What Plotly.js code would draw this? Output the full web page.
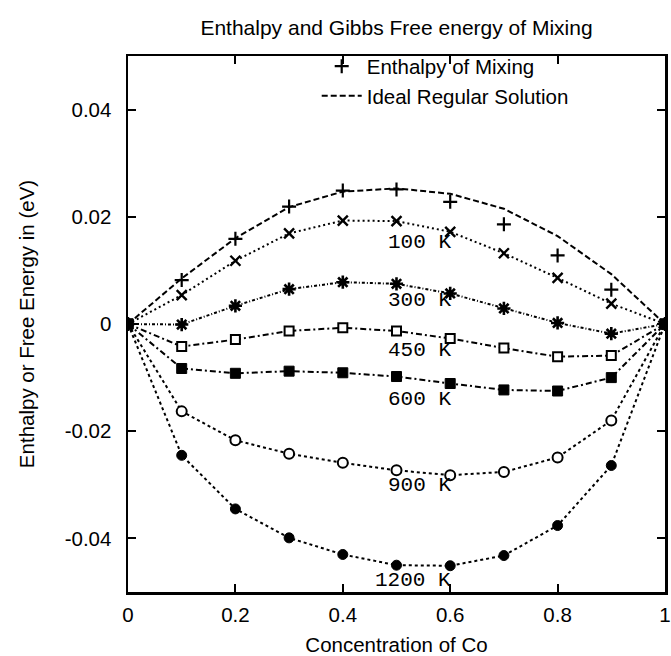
<!DOCTYPE html>
<html>
<head>
<meta charset="utf-8">
<script src="https://cdn.plot.ly/plotly-3.0.1.min.js"></script>
<style>
  html, body { margin: 0; padding: 0; background: #ffffff; }
  #chart { width: 671px; height: 656px; }
</style>
</head>
<body>
<div id="chart"></div>
<script>
// Concentration of Co
const conc = [0, 0.1, 0.2, 0.3, 0.4, 0.5, 0.6, 0.7, 0.8, 0.9, 1.0];

// Enthalpy of mixing (points) and ideal regular solution (line), eV
const enthalpy = [0, 0.0082, 0.0159, 0.0219, 0.0249, 0.0251, 0.0228, 0.0186, 0.0128, 0.0064, 0];
const idealRegular = [0, 0.0085, 0.0160, 0.0218, 0.0247, 0.0253, 0.0243, 0.0215, 0.0164, 0.0093, 0];

// Gibbs free energy of mixing at several temperatures, eV
const g100K  = [0, 0.0054, 0.0118, 0.0169, 0.0193, 0.0192, 0.0172, 0.0132, 0.0086, 0.0038, 0];
const g300K  = [0, -0.0001, 0.0034, 0.0065, 0.0078, 0.0075, 0.0057, 0.0029, 0.0002, -0.0018, 0];
const g450K  = [0, -0.0042, -0.0029, -0.0013, -0.0007, -0.0013, -0.0027, -0.0045, -0.0061, -0.0059, 0];
const g600K  = [0, -0.0083, -0.0092, -0.0088, -0.0091, -0.0098, -0.0111, -0.0123, -0.0125, -0.0100, 0];
const g900K  = [0, -0.0163, -0.0217, -0.0242, -0.0259, -0.0273, -0.0282, -0.0276, -0.0249, -0.0180, 0];
const g1200K = [0, -0.0245, -0.0345, -0.0399, -0.0430, -0.0450, -0.0451, -0.0432, -0.0376, -0.0264, 0];

// Curve labels
const tempLabels = ['100 K', '300 K', '450 K', '600 K', '900 K', '1200 K'];
const tempLabelY = [0.0152, 0.0044, -0.0050, -0.0141, -0.0302, -0.0478];

// Tick labels
const xTickVals = [0, 0.2, 0.4, 0.6, 0.8, 1];
const xTickText = ['0', '0.2', '0.4', '0.6', '0.8', '1'];
const yTickVals = [-0.04, -0.02, 0, 0.02, 0.04];
const yTickText = ['-0.04', '-0.02', '0', '0.02', '0.04'];

const SANS = 'Liberation Sans, Arial, Helvetica, sans-serif';
const MONO = 'Liberation Mono, Courier New, monospace';
const BLACK = '#000000';
const WHITE = '#ffffff';

function curve(y, dash, symbol, fill, size, mlw) {
  return {
    x: conc, y: y, type: 'scatter', mode: 'lines+markers', showlegend: false,
    line: { color: BLACK, width: 2, dash: dash },
    marker: {
      symbol: symbol, size: size, color: fill,
      line: { color: BLACK, width: mlw }
    },
    hoverinfo: 'skip'
  };
}

const traces = [
  {
    x: conc, y: enthalpy, type: 'scatter', mode: 'markers', name: 'Enthalpy of Mixing',
    marker: { symbol: 'cross-thin-open', size: 10, color: BLACK, line: { color: BLACK, width: 2.2 } }
  },
  {
    x: conc, y: idealRegular, type: 'scatter', mode: 'lines', name: 'Ideal Regular Solution',
    line: { color: BLACK, width: 2, dash: '6px,3px' }
  },
  curve(g100K, '2px,3px', 'x-thin-open', BLACK, 10, 2.4),
  curve(g300K, '3px,2px,1px,2px', 'asterisk-open', BLACK, 11, 2.6),
  curve(g450K, '6px,3px,2px,3px', 'square', WHITE, 9, 2),
  curve(g900K, '3px,3px', 'circle', WHITE, 10, 2),
  curve(g1200K, '3px,3px', 'circle', BLACK, 10, 1),
  curve(g600K, '6px,3px,2px,3px', 'square', BLACK, 10, 1)
];

const annotations = tempLabels.map((t, i) => ({
  text: t, x: 0.605, y: tempLabelY[i], xref: 'x', yref: 'y',
  xanchor: 'right', yanchor: 'middle', showarrow: false,
  font: { family: MONO, size: 21, color: BLACK }
}));

const axisCommon = {
  showgrid: false, zeroline: false, showline: true, linecolor: BLACK, linewidth: 2.5,
  mirror: 'ticks', ticks: 'inside', ticklen: 8, tickwidth: 2, tickcolor: BLACK,
  tickfont: { family: SANS, size: 20.5, color: BLACK }
};

const layout = {
  width: 671, height: 656,
  margin: { l: 128, r: 6, t: 56, b: 64 },
  paper_bgcolor: WHITE, plot_bgcolor: WHITE,
  title: {
    text: 'Enthalpy and Gibbs Free energy of Mixing',
    font: { family: SANS, size: 21, color: BLACK },
    x: 0.5, xref: 'paper', xanchor: 'center',
    y: 1 - 28 / 656, yref: 'container', yanchor: 'middle'
  },
  xaxis: Object.assign({}, axisCommon, {
    range: [0, 1], tickmode: 'array', tickvals: xTickVals, ticktext: xTickText,
    ticklabelstandoff: 3,
    title: { text: 'Concentration of Co', font: { family: SANS, size: 20.5, color: BLACK }, standoff: 17 }
  }),
  yaxis: Object.assign({}, axisCommon, {
    range: [-0.05, 0.05], tickmode: 'array', tickvals: yTickVals, ticktext: yTickText,
    ticklabelstandoff: 10,
    title: { text: 'Enthalpy or Free Energy in (eV)', font: { family: SANS, size: 20.5, color: BLACK }, standoff: 25 }
  }),
  showlegend: true,
  legend: {
    x: 0.83, xanchor: 'right', y: 1.018, yanchor: 'top',
    bgcolor: 'rgba(0,0,0,0)', borderwidth: 0,
    font: { family: SANS, size: 20.5, color: BLACK },
    tracegroupgap: 0, itemwidth: 40
  },
  annotations: annotations
};

Plotly.newPlot('chart', traces, layout, { displayModeBar: false, staticPlot: true });
</script>
</body>
</html>
